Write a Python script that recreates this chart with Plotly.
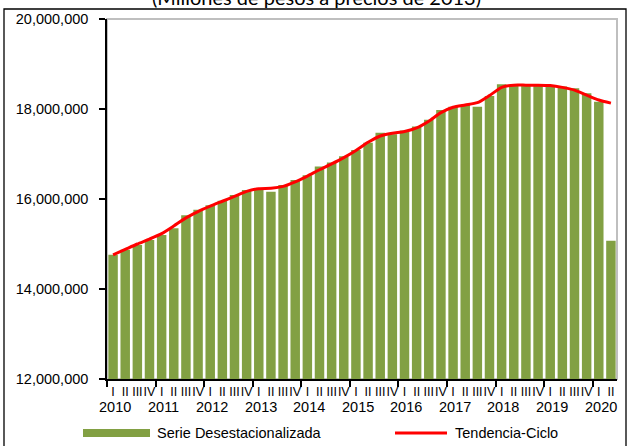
import plotly.graph_objects as go

# ---- data (values in millones de pesos a precios de 2013) ----
years = ["2010", "2011", "2012", "2013", "2014", "2015", "2016", "2017", "2018", "2019", "2020"]
quarter_labels = ["I", "II", "III", "IV"]
serie_desestacionalizada = [
    14760000, 14870000, 14980000, 15090000,
    15200000, 15350000, 15640000, 15760000,
    15860000, 15960000, 16090000, 16200000,
    16240000, 16160000, 16310000, 16420000,
    16530000, 16720000, 16810000, 16950000,
    17090000, 17250000, 17470000, 17440000,
    17520000, 17610000, 17760000, 17980000,
    18050000, 18090000, 18050000, 18290000,
    18550000, 18510000, 18510000, 18510000,
    18510000, 18500000, 18460000, 18350000,
    18160000, 15070000,
]
tendencia_ciclo = [
    14760000, 14880000, 15000000, 15110000,
    15230000, 15400000, 15580000, 15720000,
    15840000, 15950000, 16060000, 16170000,
    16230000, 16240000, 16280000, 16380000,
    16510000, 16650000, 16780000, 16920000,
    17080000, 17260000, 17400000, 17460000,
    17500000, 17580000, 17730000, 17920000,
    18040000, 18090000, 18140000, 18300000,
    18480000, 18530000, 18530000, 18530000,
    18520000, 18480000, 18420000, 18310000,
    18200000, 18130000,
]
y_ticks = [12000000, 14000000, 16000000, 18000000, 20000000]

n = len(serie_desestacionalizada)
xs = list(range(n))
ticktext = [quarter_labels[i % 4] for i in xs]

# ---- layout geometry (pixels) ----
W, H = 629, 446
L, R, T, B = 107, 617, 19, 379
pw, ph = R - L, B - T


def px(x):
    return (x - L) / pw


def py(y):
    return (B - y) / ph


FONT = "Liberation Sans, Arial, sans-serif"
GREEN = "#82A043"
RED = "#FF0000"

fig = go.Figure()
fig.add_trace(go.Bar(
    x=xs, y=serie_desestacionalizada, name="Serie Desestacionalizada",
    marker=dict(color=GREEN, line=dict(width=0)), showlegend=False,
))
fig.add_trace(go.Scatter(
    x=xs, y=tendencia_ciclo, name="Tendencia-Ciclo", mode="lines",
    line=dict(color=RED, width=3, shape="spline", smoothing=0.6), showlegend=False,
))

shapes = []
# plot area light border (top/right)
shapes.append(dict(type="rect", xref="paper", yref="paper", x0=0, x1=1, y0=0, y1=1,
                   line=dict(color="#BFBFBF", width=2), layer="below"))
# outer chart border
shapes.append(dict(type="rect", xref="paper", yref="paper",
                   x0=px(4), x1=px(626), y0=py(452), y1=py(9),
                   line=dict(color="black", width=1.3)))
# legend swatches
shapes.append(dict(type="rect", xref="paper", yref="paper",
                   x0=px(83), x1=px(150), y0=py(437), y1=py(429),
                   fillcolor=GREEN, line=dict(width=0)))
shapes.append(dict(type="line", xref="paper", yref="paper",
                   x0=px(395), x1=px(447), y0=py(433), y1=py(433),
                   line=dict(color=RED, width=3)))

annotations = []
for k, yr in enumerate(years):
    annotations.append(dict(x=4 * k + 0.15, xref="x", y=py(407), yref="paper",
                            text=yr, showarrow=False, xanchor="center", yanchor="middle",
                            font=dict(family=FONT, size=14.5, color="black")))
annotations.append(dict(x=px(155), xref="paper", y=py(433), yref="paper",
                        text="Serie Desestacionalizada", showarrow=False,
                        xanchor="left", yanchor="middle",
                        font=dict(family=FONT, size=14.5, color="black")))
annotations.append(dict(x=px(453), xref="paper", y=py(433), yref="paper",
                        text="Tendencia-Ciclo", showarrow=False,
                        xanchor="left", yanchor="middle",
                        font=dict(family=FONT, size=14.5, color="black")))
annotations.append(dict(x=px(316), xref="paper", y=py(-3), yref="paper",
                        text="(Millones de pesos a precios de 2013)", showarrow=False,
                        xanchor="center", yanchor="middle",
                        font=dict(family="Lato, sans-serif", size=20, color="black")))

fig.update_layout(
    width=W, height=H,
    margin=dict(l=L, r=W - R, t=T, b=H - B),
    paper_bgcolor="white", plot_bgcolor="white",
    bargap=0.22,
    showlegend=False,
    shapes=shapes,
    annotations=annotations,
    xaxis=dict(
        range=[-0.5, n - 0.5],
        tickmode="array", tickvals=xs, ticktext=ticktext,
        ticks="", tickangle=0,
        tickfont=dict(family=FONT, size=12.5, color="black"),
        showline=True, linecolor="black", linewidth=1.5,
        showgrid=False, zeroline=False,
        minor=dict(tick0=-0.5, dtick=4, ticks="outside", ticklen=6,
                   tickcolor="black", tickwidth=1.5, showgrid=False),
    ),
    yaxis=dict(
        range=[12000000, 20000000],
        tickmode="array", tickvals=y_ticks,
        tickformat=",d",
        ticks="outside", ticklen=6, tickcolor="black", tickwidth=1.5,
        ticklabelstandoff=8,
        tickfont=dict(family=FONT, size=14.5, color="black"),
        showline=True, linecolor="black", linewidth=1.5,
        showgrid=False, zeroline=False,
    ),
)

fig.write_html("out.html", config={"displayModeBar": False},
               post_script="document.body.style.margin='0px';")
